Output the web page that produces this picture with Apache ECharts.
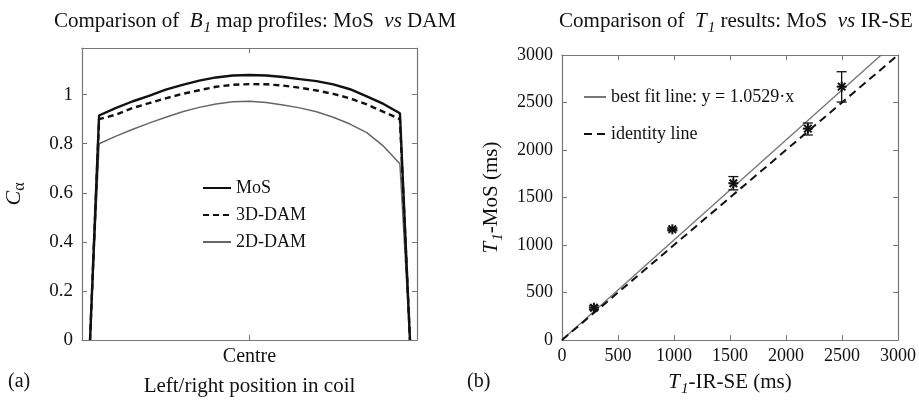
<!DOCTYPE html>
<html>
<head>
<meta charset="utf-8">
<script src="https://cdn.jsdelivr.net/npm/echarts@6/dist/echarts.min.js"></script>
<style>
html,body{margin:0;padding:0;background:#fff;}
#c{width:919px;height:404px;}
</style>
</head>
<body>
<div id="c"></div>
<script>
// ---- Panel (a): B1 map profiles ----
const profilePos = [2.4, 5.1, 10, 15, 20, 25, 30, 35, 40, 45, 50, 55, 60, 65, 70, 75, 80, 85, 90, 94.9, 97.9];
const mosProfile = [0, 0.915, 0.945, 0.972, 0.995, 1.02, 1.04, 1.057, 1.07, 1.078, 1.08, 1.078, 1.072, 1.063, 1.055, 1.042, 1.022, 0.993, 0.962, 0.924, 0];
const dam3DProfile = [0, 0.90, 0.918, 0.945, 0.965, 0.985, 1.003, 1.018, 1.032, 1.04, 1.043, 1.042, 1.037, 1.028, 1.017, 1.003, 0.985, 0.96, 0.93, 0.90, 0];
const dam2DProfile = [0, 0.80, 0.83, 0.858, 0.884, 0.908, 0.93, 0.948, 0.962, 0.971, 0.973, 0.968, 0.958, 0.946, 0.93, 0.908, 0.88, 0.845, 0.79, 0.718, 0];
const profileNames = ['MoS', '3D-DAM', '2D-DAM'];
const leftYTicks = [0, 0.2, 0.4, 0.6, 0.8, 1];

// ---- Panel (b): T1 comparison ----
const irseT1 = [285, 985, 1530, 2195, 2497];
const mosT1 = [340, 1165, 1650, 2225, 2667];
const mosT1Low = [320, 1150, 1580, 2158, 2505];
const mosT1High = [360, 1180, 1720, 2284, 2824];
const fitLineX = [0, 2850];
const fitLineY = [0, 3000];
const identityX = [0, 3000];
const identityY = [0, 3000];
const lineNames = ['best fit line: y = 1.0529\u00b7x', 'identity line'];

const FONT = '"Liberation Serif", "Times New Roman", serif';
const axisGray = '#777';

function zip(a, b) { return a.map((v, i) => [v, b[i]]); }

const frameAxis = (extra) => Object.assign({
  axisLine: {show: true, onZero: false, lineStyle: {color: axisGray, width: 1.2}},
  axisTick: {show: true, inside: true, length: 5, lineStyle: {color: axisGray}},
  splitLine: {show: false},
  axisLabel: {show: false}
}, extra);

const chart = echarts.init(document.getElementById('c'), null, {renderer: 'canvas'});

const rich21 = {
  n: {fontFamily: FONT, fontSize: 21, fontWeight: 'normal', color: '#111'},
  i: {fontFamily: FONT, fontSize: 21, fontWeight: 'normal', fontStyle: 'italic', color: '#111'},
  s: {fontFamily: FONT, fontSize: 15, fontWeight: 'normal', fontStyle: 'italic', color: '#111', padding: [14, 0, 0, 1]}
};

const option = {
  animation: false,
  backgroundColor: '#fff',
  textStyle: {fontFamily: FONT},
  title: [
    {text: '{n|Comparison of  }{i|B}{s|1}{n| map profiles: MoS  }{i|vs}{n| DAM}', left: 250, top: 2, textAlign: 'center',
      textStyle: {fontWeight: 'normal', rich: rich21}},
    {text: '{n|Comparison of  }{i|T}{s|1}{n| results: MoS  }{i|vs}{n| IR-SE}', left: 731, top: 2, textAlign: 'center',
      textStyle: {fontWeight: 'normal', rich: rich21}}
  ],
  grid: [
    {left: 82, right: 502, top: 48, bottom: 64, containLabel: false, outerBoundsMode: 'none'},
    {left: 562, right: 21, top: 55, bottom: 64, containLabel: false, outerBoundsMode: 'none'}
  ],
  legend: [
    {
      data: profileNames, orient: 'vertical', left: 197, top: 174, itemGap: 9,
      itemWidth: 28, itemHeight: 16,
      itemStyle: {opacity: 0},
      textStyle: {fontFamily: FONT, fontSize: 18, color: '#111'}
    },
    {
      data: lineNames, orient: 'vertical', left: 578, top: 83, itemGap: 19,
      itemWidth: 22, itemHeight: 16,
      itemStyle: {opacity: 0},
      textStyle: {fontFamily: FONT, fontSize: 18, color: '#111'}
    }
  ],
  xAxis: [
    frameAxis({gridIndex: 0, type: 'value', min: 0, max: 100, interval: 50, position: 'bottom',
      axisLabel: {show: true, fontFamily: FONT, fontSize: 20, color: '#111', margin: 7,
        formatter: v => (v === 50 ? 'Centre' : '')},
      name: 'Left/right position in coil', nameLocation: 'middle', nameGap: 36,
      nameTextStyle: {fontFamily: FONT, fontSize: 21, color: '#111'}}),
    frameAxis({gridIndex: 0, type: 'value', min: 0, max: 100, interval: 50, position: 'top'}),
    frameAxis({gridIndex: 1, type: 'value', min: 0, max: 3000, interval: 500, position: 'bottom',
      axisLabel: {show: true, fontFamily: FONT, fontSize: 18, color: '#111', margin: 7, formatter: v => String(v)},
      name: '{i|T}{s|1}{n|-IR-SE (ms)}', nameLocation: 'middle', nameGap: 28,
      nameTextStyle: {rich: rich21}}),
    frameAxis({gridIndex: 1, type: 'value', min: 0, max: 3000, interval: 500, position: 'top'})
  ],
  yAxis: [
    frameAxis({gridIndex: 0, type: 'value', min: 0, max: 1.19, interval: 0.2, position: 'left',
      axisLabel: {show: true, fontFamily: FONT, fontSize: 19, color: '#111', margin: 9, showMaxLabel: false,
        formatter: v => (leftYTicks.some(t => Math.abs(t - v) < 1e-6) ? String(+v.toFixed(1)) : '')},
      name: '{i|C}{s|\u03b1}', nameLocation: 'middle', nameGap: 54, nameRotate: 90,
      nameTextStyle: {rich: {
        i: {fontFamily: FONT, fontSize: 22, fontStyle: 'italic', color: '#111'},
        s: {fontFamily: FONT, fontSize: 16, color: '#111', padding: [12, 0, 0, 0]}
      }}}),
    frameAxis({gridIndex: 0, type: 'value', min: 0, max: 1.19, interval: 0.2, position: 'right'}),
    frameAxis({gridIndex: 1, type: 'value', min: 0, max: 3000, interval: 500, position: 'left',
      axisLabel: {show: true, fontFamily: FONT, fontSize: 18, color: '#111', margin: 9, formatter: v => String(v)},
      name: '{i|T}{s|1}{n|-MoS (ms)}', nameLocation: 'middle', nameGap: 56, nameRotate: 90,
      nameTextStyle: {rich: rich21}}),
    frameAxis({gridIndex: 1, type: 'value', min: 0, max: 3000, interval: 500, position: 'right'})
  ],
  series: [
    {name: 'MoS', type: 'line', xAxisIndex: 0, yAxisIndex: 0, data: zip(profilePos, mosProfile),
      symbol: 'none', lineStyle: {color: '#111', width: 2.4}, itemStyle: {color: '#111'}, z: 4},
    {name: '3D-DAM', type: 'line', xAxisIndex: 0, yAxisIndex: 0, data: zip(profilePos, dam3DProfile),
      symbol: 'none', lineStyle: {color: '#111', width: 2.4, type: [6, 4]}, itemStyle: {color: '#111'}, z: 3},
    {name: '2D-DAM', type: 'line', xAxisIndex: 0, yAxisIndex: 0, data: zip(profilePos, dam2DProfile),
      symbol: 'none', lineStyle: {color: '#666', width: 1.5}, itemStyle: {color: '#666'}, z: 2},
    {name: lineNames[0], type: 'line', xAxisIndex: 2, yAxisIndex: 2, data: zip(fitLineX, fitLineY),
      symbol: 'none', lineStyle: {color: '#777', width: 1.4}, itemStyle: {color: '#777'}, z: 2},
    {name: lineNames[1], type: 'line', xAxisIndex: 2, yAxisIndex: 2, data: zip(identityX, identityY),
      symbol: 'none', lineStyle: {color: '#111', width: 2, type: [8, 5]}, itemStyle: {color: '#111'}, z: 3},
    {name: 'T1 points', type: 'custom', xAxisIndex: 2, yAxisIndex: 2, z: 5,
      data: irseT1.map((x, i) => [x, mosT1[i], mosT1Low[i], mosT1High[i]]),
      renderItem: function (params, api) {
        const x = api.value(0);
        const c = api.coord([x, api.value(1)]);
        const lo = api.coord([x, api.value(2)]);
        const hi = api.coord([x, api.value(3)]);
        const cap = 5, m = 5;
        const L = (x1, y1, x2, y2, w) => ({type: 'line', shape: {x1, y1, x2, y2}, style: {stroke: '#111', lineWidth: w || 1.3}});
        return {type: 'group', children: [
          L(lo[0], lo[1], hi[0], hi[1]),
          L(lo[0] - cap, lo[1], lo[0] + cap, lo[1]),
          L(hi[0] - cap, hi[1], hi[0] + cap, hi[1]),
          L(c[0] - m, c[1], c[0] + m, c[1], 2),
          L(c[0], c[1] - m, c[0], c[1] + m, 2),
          L(c[0] - m * 0.75, c[1] - m * 0.75, c[0] + m * 0.75, c[1] + m * 0.75, 2),
          L(c[0] - m * 0.75, c[1] + m * 0.75, c[0] + m * 0.75, c[1] - m * 0.75, 2)
        ]};
      }
    }
  ],
  graphic: [
    {type: 'text', left: 8, top: 372, style: {text: '(a)', font: '20px ' + FONT, fill: '#111'}},
    {type: 'text', left: 467, top: 372, style: {text: '(b)', font: '20px ' + FONT, fill: '#111'}}
  ]
};
chart.setOption(option);
</script>
</body>
</html>
